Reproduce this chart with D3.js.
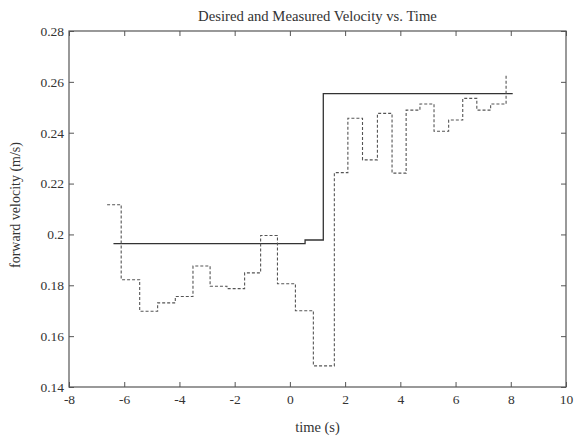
<!DOCTYPE html>
<html>
<head>
<meta charset="utf-8">
<script src="https://cdn.jsdelivr.net/npm/d3@7"></script>
<style>
  body { margin: 0; background: #fff; }
  svg text { font-family: "Liberation Serif", "DejaVu Serif", serif; fill: #333; }
</style>
</head>
<body>
<svg id="chart" width="574" height="439"></svg>
<script>
// measured velocity: step start times (s) and held values (m/s)
var measuredTime = [-6.62, -6.11, -5.44, -4.79, -4.15, -3.51, -2.89, -2.28, -1.64, -1.06, -0.45, 0.20, 0.85,
                    1.61, 2.10, 2.63, 3.17, 3.70, 4.21, 4.71, 5.22, 5.75, 6.26, 6.77, 7.27, 7.83];
var measuredVel = [0.2117, 0.1822, 0.1698, 0.1731, 0.1756, 0.1876, 0.1796, 0.1787, 0.1849, 0.1996, 0.1806, 0.1700, 0.1483,
                   0.2243, 0.2457, 0.2293, 0.2476, 0.2241, 0.2489, 0.2513, 0.2406, 0.2450, 0.2535, 0.2489, 0.2513, 0.2626];

// desired velocity
var desiredTime = [-6.39, 0.55, 1.21, 8.07];
var desiredVel = [0.1964, 0.1978, 0.2554, 0.2554];

var xTicks = [-8, -6, -4, -2, 0, 2, 4, 6, 8, 10];
var yTicks = [0.14, 0.16, 0.18, 0.2, 0.22, 0.24, 0.26, 0.28];

var margin = {top: 31, right: 8, bottom: 52, left: 69};
var svg = d3.select("#chart");
var width = 574 - margin.left - margin.right,
    height = 439 - margin.top - margin.bottom;

var g = svg.append("g").attr("transform", "translate(" + margin.left + "," + margin.top + ")");

var x = d3.scaleLinear().domain([-8, 10]).range([0, width]);
var y = d3.scaleLinear().domain([0.14, 0.28]).range([height, 0]);

// plain hyphen for negatives, like the original plot
var fmt = function(d) { return String(+d.toFixed(2)); };

// axes, matlab style: ticks pointing inward on all four sides
function styleAxis(sel) {
  sel.select(".domain").remove();
  sel.selectAll("line").attr("stroke", "#555");
  sel.selectAll("text").style("font-size", "13.5px").attr("fill", "#333");
}

g.append("g").attr("transform", "translate(0," + height + ")")
  .call(d3.axisBottom(x).tickValues(xTicks).tickSizeInner(-5).tickSizeOuter(0).tickPadding(7).tickFormat(fmt))
  .call(styleAxis);
g.append("g")
  .call(d3.axisTop(x).tickValues(xTicks).tickSizeInner(-5).tickSizeOuter(0).tickFormat(""))
  .call(styleAxis);
g.append("g")
  .call(d3.axisLeft(y).tickValues(yTicks).tickSizeInner(-5).tickSizeOuter(0).tickPadding(5).tickFormat(fmt))
  .call(styleAxis);
g.append("g").attr("transform", "translate(" + width + ",0)")
  .call(d3.axisRight(y).tickValues(yTicks).tickSizeInner(-5).tickSizeOuter(0).tickFormat(""))
  .call(styleAxis);

g.append("rect")
  .attr("width", width).attr("height", height)
  .attr("fill", "none").attr("stroke", "#555").attr("stroke-width", 1.2);

var step = d3.line()
  .x(function(d) { return x(d[0]); })
  .y(function(d) { return y(d[1]); })
  .curve(d3.curveStepAfter);

g.append("path")
  .datum(d3.zip(desiredTime, desiredVel))
  .attr("d", step)
  .attr("fill", "none").attr("stroke", "#333").attr("stroke-width", 1.3);

g.append("path")
  .datum(d3.zip(measuredTime, measuredVel))
  .attr("d", step)
  .attr("fill", "none").attr("stroke", "#555").attr("stroke-width", 1.1)
  .attr("stroke-dasharray", "3,2");

// labels, centred on the plot box
var cx = margin.left + width / 2, cy = margin.top + height / 2;
svg.append("text").attr("x", cx).attr("y", 21).attr("text-anchor", "middle")
  .style("font-size", "14.7px").text("Desired and Measured Velocity vs. Time");
svg.append("text").attr("x", cx).attr("y", 432).attr("text-anchor", "middle")
  .style("font-size", "14.5px").text("time (s)");
svg.append("text").attr("transform", "translate(20," + (cy - 4) + ") rotate(-90)").attr("text-anchor", "middle")
  .style("font-size", "14px").text("forward velocity (m/s)");
</script>
</body>
</html>
